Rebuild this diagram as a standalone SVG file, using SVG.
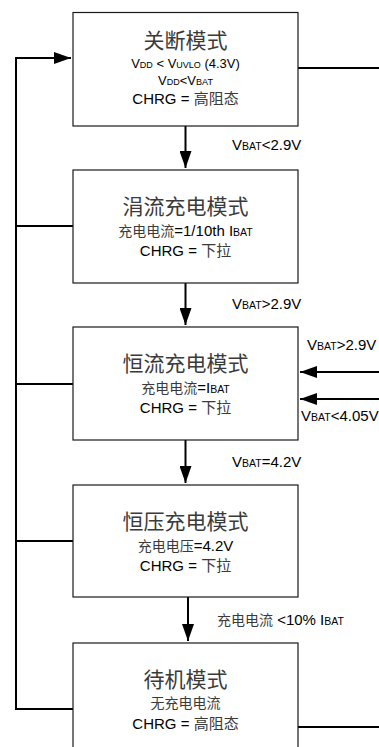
<svg xmlns="http://www.w3.org/2000/svg" width="379" height="747" viewBox="0 0 379 747">
<style>
.box{fill:#fff;stroke:#1a1a1a;stroke-width:1.2}
.t{font-family:"Liberation Sans","Noto Sans CJK SC",sans-serif;text-anchor:middle;fill:#000}
.title{font-size:21px;fill:#3a3a3a}
.l13{font-size:13px}
.l14{font-size:15px}
.l15{font-size:15px}
.cj{fill:#3a3a3a;font-size:14px}
.cj15{fill:#3a3a3a;font-size:15px}
.sm{font-size:10.5px}
.lab{font-family:"Liberation Sans","Noto Sans CJK SC",sans-serif;font-size:15px;fill:#000}
.conn{fill:none;stroke:#000;stroke-width:2}
</style>
<defs>
<marker id="ah" viewBox="0 0 17 12" refX="17" refY="6" markerWidth="17" markerHeight="12" markerUnits="userSpaceOnUse" orient="auto">
<path d="M0,0 L17,6 L0,12 Z" fill="#000"/>
</marker>
</defs>
<rect width="379" height="747" fill="#fff"/>
<g id="connectors">
<path class="conn" d="M185.5,126 V168" marker-end="url(#ah)"/>
<path class="conn" d="M185.5,283 V325" marker-end="url(#ah)"/>
<path class="conn" d="M185.5,440 V483" marker-end="url(#ah)"/>
<path class="conn" d="M188,597 V641" marker-end="url(#ah)"/>
<path class="conn" d="M73,709 H16 V58 H71" marker-end="url(#ah)"/>
<path class="conn" d="M16,226 H73 M16,384 H73 M16,541 H73"/>
<path class="conn" d="M298,68 H379 M298,727 H379"/>
<path class="conn" d="M379,372 H300" marker-end="url(#ah)"/>
<path class="conn" d="M379,399 H300" marker-end="url(#ah)"/>
<text class="lab" x="232" y="150">V<tspan class="sm">BAT</tspan>&lt;2.9V</text>
<text class="lab" x="232" y="309">V<tspan class="sm">BAT</tspan>&gt;2.9V</text>
<text class="lab" x="307" y="350">V<tspan class="sm">BAT</tspan>&gt;2.9V</text>
<text class="lab" x="301" y="421">V<tspan class="sm">BAT</tspan>&lt;4.05V</text>
<text class="lab" x="232" y="467">V<tspan class="sm">BAT</tspan>=4.2V</text>
<text class="lab" x="217" y="625"><tspan class="cj">充电电流</tspan> &lt;10% I<tspan class="sm">BAT</tspan></text>
</g>
<g id="node-shutdown">
<rect class="box" x="73" y="12.5" width="225" height="113.5"/>
<text class="t title" x="185.5" y="47.5">关断模式</text>
<text class="t l13" x="185.5" y="68">V<tspan font-size="9">DD</tspan> &lt; V<tspan font-size="9">UVLO</tspan> (4.3V)</text>
<text class="t l13" x="185.5" y="85">V<tspan font-size="9">DD</tspan>&lt;V<tspan font-size="9">BAT</tspan></text>
<text class="t l15" x="185.5" y="104">CHRG = <tspan class="cj15">高阻态</tspan></text>
</g>
<g id="node-trickle">
<rect class="box" x="73" y="170" width="225" height="113"/>
<text class="t title" x="185.5" y="214">涓流充电模式</text>
<text class="t l14" x="185.5" y="236"><tspan class="cj">充电电流</tspan>=1/10th I<tspan class="sm">BAT</tspan></text>
<text class="t l15" x="185.5" y="256">CHRG = <tspan class="cj15">下拉</tspan></text>
</g>
<g id="node-cc">
<rect class="box" x="73" y="327" width="225" height="113"/>
<text class="t title" x="185.5" y="371">恒流充电模式</text>
<text class="t l14" x="185.5" y="393"><tspan class="cj">充电电流</tspan>=I<tspan class="sm">BAT</tspan></text>
<text class="t l15" x="185.5" y="413">CHRG = <tspan class="cj15">下拉</tspan></text>
</g>
<g id="node-cv">
<rect class="box" x="73" y="485" width="225" height="112"/>
<text class="t title" x="185.5" y="529">恒压充电模式</text>
<text class="t l14" x="185.5" y="551"><tspan class="cj">充电电压</tspan>=4.2V</text>
<text class="t l15" x="185.5" y="571">CHRG = <tspan class="cj15">下拉</tspan></text>
</g>
<g id="node-standby">
<rect class="box" x="73" y="643" width="225" height="120"/>
<text class="t title" x="185.5" y="687">待机模式</text>
<text class="t l14" x="185.5" y="708"><tspan class="cj">无充电电流</tspan></text>
<text class="t l15" x="185.5" y="729">CHRG = <tspan class="cj15">高阻态</tspan></text>
</g>
</svg>
